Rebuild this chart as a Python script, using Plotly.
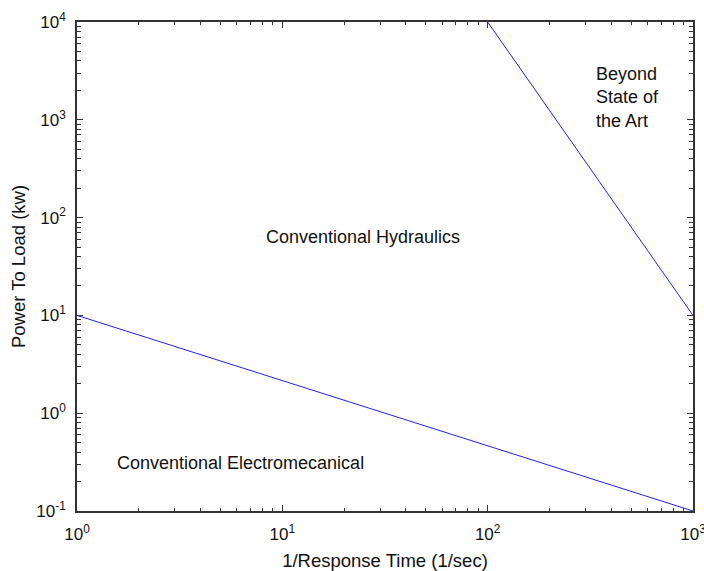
import plotly.graph_objects as go

# Data
elec_x = [1, 1000]
elec_y = [10, 0.1]
hyd_x = [100, 1000]
hyd_y = [10000, 10]

x_tickvals = [1, 10, 100, 1000]
x_ticktext = ["10<sup>0</sup>", "10<sup>1</sup>", "10<sup>2</sup>", "10<sup>3</sup>"]
y_tickvals = [0.1, 1, 10, 100, 1000, 10000]
y_ticktext = ["10<sup>-1</sup>", "10<sup>0</sup>", "10<sup>1</sup>", "10<sup>2</sup>", "10<sup>3</sup>", "10<sup>4</sup>"]

x_minor = [m * 10 ** k for k in range(0, 3) for m in range(2, 10)]
y_minor = [m * 10 ** k for k in range(-1, 4) for m in range(2, 10)]

FONT = "Liberation Sans, Arial, sans-serif"
FRAME = "#333333"

fig = go.Figure()
fig.add_trace(go.Scatter(x=elec_x, y=elec_y, mode="lines",
                         line=dict(color="#2020ff", width=1), showlegend=False))
fig.add_trace(go.Scatter(x=hyd_x, y=hyd_y, mode="lines",
                         line=dict(color="#2020ff", width=1), showlegend=False))

axis_common = dict(
    type="log", showgrid=False, zeroline=False,
    showline=True, linecolor=FRAME, linewidth=1.5, mirror="allticks",
    ticks="inside", ticklen=6, tickwidth=1, tickcolor=FRAME,
    tickfont=dict(family=FONT, size=17, color="#111111"),
    tickmode="array", ticklabeloverflow="allow", automargin=False,
)

fig.update_xaxes(**axis_common, range=[0, 3], tickvals=x_tickvals, ticktext=x_ticktext,
                 minor=dict(tickvals=x_minor, ticks="inside", ticklen=3.5, tickcolor=FRAME),
                 ticklabelstandoff=7,
                 title=dict(text="1/Response Time (1/sec)", font=dict(family=FONT, size=18.5, color="#111111"), standoff=11))
fig.update_yaxes(**axis_common, range=[-1, 4], tickvals=y_tickvals, ticktext=y_ticktext,
                 minor=dict(tickvals=y_minor, ticks="inside", ticklen=4, tickcolor=FRAME),
                 ticklabelstandoff=6,
                 title=dict(text="Power To Load (kw)", font=dict(family=FONT, size=18.5, color="#111111"), standoff=6))

ann_font = dict(family=FONT, size=18, color="#111111")
fig.add_annotation(x=1.393, y=1.80, xref="x", yref="y", text="Conventional Hydraulics",
                   showarrow=False, font=ann_font, xanchor="center", yanchor="middle")
fig.add_annotation(x=0.794, y=-0.51, xref="x", yref="y", text="Conventional Electromecanical",
                   showarrow=False, font=ann_font, xanchor="center", yanchor="middle")
fig.add_annotation(x=2.518, y=3.233, xref="x", yref="y", text="Beyond<br>State of<br>the Art",
                   showarrow=False, font=ann_font, xanchor="left", yanchor="middle", align="left")

fig.update_layout(
    width=704, height=571,
    margin=dict(l=77, r=11, t=22, b=60),
    plot_bgcolor="white", paper_bgcolor="white",
    font=dict(family=FONT),
)

fig.write_html("out.html")
